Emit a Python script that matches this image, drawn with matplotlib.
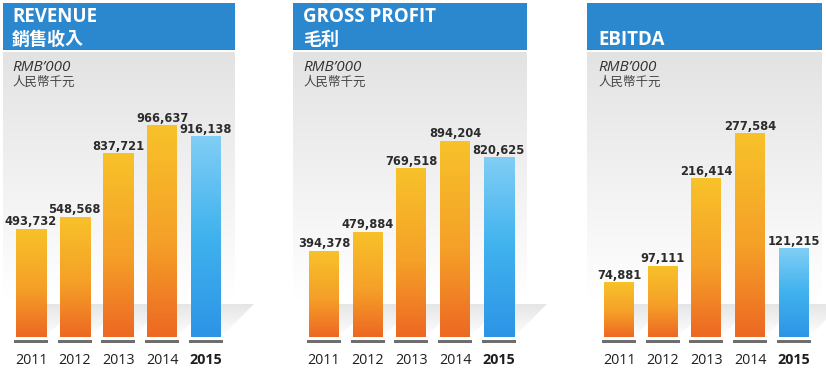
import numpy as np
import matplotlib
matplotlib.use('Agg')
import matplotlib.pyplot as plt
from matplotlib import font_manager as fm
from matplotlib.patches import Rectangle, Polygon

# ---------------- data ----------------
years = ['2011', '2012', '2013', '2014', '2015']
revenue = [493732, 548568, 837721, 966637, 916138]
gross_profit = [394378, 479884, 769518, 894204, 820625]
ebitda = [74881, 97111, 216414, 277584, 121215]
titles_en = ['REVENUE', 'GROSS PROFIT', 'EBITDA']
titles_zh = ['銷售收入', '毛利', '']
unit_en = 'RMB\u2019000'
unit_zh = '人民幣千元'
series = [revenue, gross_profit, ebitda]

# ---------------- pick a condensed font for value labels ----------------
cands = []
for f in fm.fontManager.ttflist:
    st = str(f.stretch).lower()
    nm = f.name.lower()
    cond = ('narrow' in nm or 'condensed' in nm or st in ('condensed', 'semi-condensed', 'extra-condensed')
            or (isinstance(f.stretch, int) and f.stretch < 500))
    if cond:
        cands.append(f)
val_font = None
for f in cands:
    if str(f.weight) in ('bold', '700', 'semibold', '600') or f.weight in (600, 700):
        val_font = f
        break
if val_font is None and cands:
    val_font = cands[0]
if val_font is not None:
    val_fp = fm.FontProperties(fname=val_font.fname, size=9.2)
else:
    val_fp = fm.FontProperties(family='Roboto', weight='bold', size=8.5)

# ---------------- layout (pixels) ----------------
W, H = 826, 374
panel_l = [3, 293, 587]
panel_r = [235, 527, 822]
title_x = [12, 303, 598]
first_c = [31, 324, 619]
spacing = 43.7
bar_px = 30
per_px = [4560, 4560, 1364]   # value units per pixel
ax_top, base_y, ax_bot = 52, 337, 344

header_col = '#2B88CF'
orange_stops = [(0.0, (237, 104, 35)), (0.45, (245, 160, 40)), (1.0, (248, 194, 42))]
blue_stops = [(0.0, (45, 148, 230)), (0.5, (64, 178, 238)), (1.0, (128, 206, 245))]


def grad(stops, n=256):
    t = np.linspace(0, 1, n)
    pos = [s[0] for s in stops]
    arr = np.zeros((n, 2, 3))
    for c in range(3):
        vals = [s[1][c] / 255 for s in stops]
        arr[:, :, c] = np.interp(t, pos, vals)[:, None]
    return arr


fig = plt.figure(figsize=(W / 100, H / 100), dpi=100)
fig.patch.set_facecolor('white')

bg = fig.add_axes([0, 0, 1, 1], zorder=0)
bg.set_xlim(0, W)
bg.set_ylim(H, 0)
bg.axis('off')

for p in range(3):
    pl, pr = panel_l[p], panel_r[p]
    bg.add_patch(Rectangle((pl, 3), pr - pl, 46.5, facecolor=header_col, edgecolor='none'))
    g = np.zeros((100, 2, 3))
    t = np.linspace(0, 1, 100)[:, None]
    top = np.array([227, 227, 228]) / 255
    g[:] = (top * (1 - t) + 1.0 * t)[:, None, :]
    bg.imshow(g, extent=(pl, pr, 300, ax_top), aspect='auto', interpolation='bilinear', origin='upper', zorder=0)
    if titles_zh[p]:
        bg.text(title_x[p], 21.7, titles_en[p], color='white', fontsize=13.5, fontweight='bold',
                family=['Open Sans', 'DejaVu Sans'], va='baseline', ha='left')
        bg.text(title_x[p], 39, titles_zh[p], color='white', fontsize=13, fontweight='bold',
                family=['Noto Sans CJK TC', 'DejaVu Sans'], va='center', ha='left')
    else:
        bg.text(title_x[p], 45, titles_en[p], color='white', fontsize=13.5, fontweight='bold',
                family=['Open Sans', 'DejaVu Sans'], va='baseline', ha='left')
    bg.text(title_x[p], 71, unit_en, color='#333333', fontsize=11, fontstyle='italic',
            family=['Open Sans', 'DejaVu Sans'], va='baseline', ha='left')
    bg.text(title_x[p], 82.5, unit_zh, color='#444444', fontsize=9,
            family=['Noto Sans CJK TC', 'DejaVu Sans'], va='center', ha='left')

    s = per_px[p]
    left_px = first_c[p] - 0.6 * spacing
    width_px = 5.2 * spacing
    ax = fig.add_axes([left_px / W, (H - ax_bot) / H, width_px / W, (ax_bot - ax_top) / H], zorder=1)
    ax.patch.set_visible(False)
    ax.axis('off')
    x = np.arange(len(years))
    vals = series[p]
    bw = bar_px / spacing
    bars = ax.bar(x, vals, width=bw, color='#F5A623', edgecolor='none', zorder=2)
    ax.bar(x, 3 * s, bottom=-6 * s, width=34 / spacing, color='#6E6E6E', edgecolor='none', zorder=2)
    ax.set_xlim(-0.6, 4.6)
    ax.set_ylim(-7 * s, (base_y - ax_top) * s)

    for i, (b, v) in enumerate(zip(bars, vals)):
        stops = blue_stops if i == len(vals) - 1 else orange_stops
        im = ax.imshow(grad(stops), extent=(b.get_x(), b.get_x() + b.get_width(), 0, v),
                       aspect='auto', origin='lower', interpolation='bilinear', zorder=3)
        im.set_clip_path(b)
        ax.annotate(f'{v:,}', (i, v), xytext=(0, 3.5), textcoords='offset pixels',
                    ha='center', va='baseline', fontproperties=val_fp, color='#2B2B2B', zorder=4)
        last = i == len(vals) - 1
        ax.annotate(years[i], (i, 0), xytext=(0, -27), textcoords='offset pixels',
                    ha='center', va='baseline', fontsize=10.3,
                    fontweight='bold' if last else 'normal',
                    family=['Open Sans', 'DejaVu Sans'], color='#1E1E1E')
        xr_d, yb_d = ax.transData.transform((b.get_x() + b.get_width(), 0))
        xr, yb = xr_d, H - yb_d
        tri = Polygon([(xr, yb), (xr, yb - 33), (xr + 33, yb - 33)], closed=True,
                      facecolor='none', edgecolor='none')
        bg.add_patch(tri)
        sg = np.zeros((50, 2, 4))
        tt = np.linspace(0, 1, 50)
        sg[:, :, :3] = 0.80
        sg[:, :, 3] = (0.5 * (1 - tt))[:, None]
        sim = bg.imshow(sg, extent=(xr, xr + 33, yb, yb - 33), aspect='auto', origin='upper',
                        interpolation='bilinear', zorder=1)
        sim.set_clip_path(tri)

    ax.set_xlim(-0.6, 4.6)
    ax.set_ylim(-7 * s, (base_y - ax_top) * s)

bg.set_xlim(0, W)
bg.set_ylim(H, 0)

fig.savefig('out.png', dpi=100, facecolor='white')
